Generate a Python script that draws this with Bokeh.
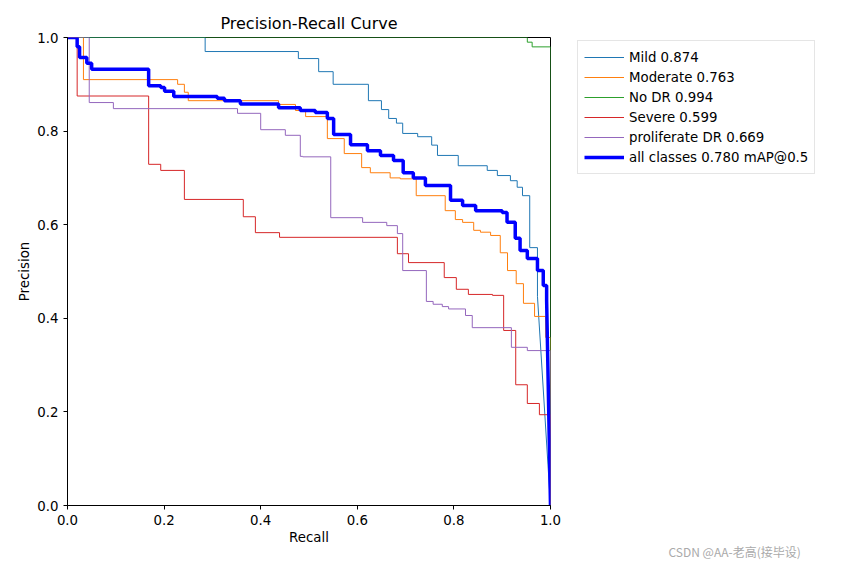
from bokeh.plotting import figure
from bokeh.models import Legend, LegendItem, Title, SingleIntervalTicker, NumeralTickFormatter, Range1d
from bokeh.embed import file_html
from bokeh.resources import INLINE

# (recall breakpoints, precision values) - step "after"
mild_r = [0.0, 0.285, 0.478, 0.52, 0.55, 0.623, 0.65, 0.665, 0.681, 0.694, 0.725, 0.754, 0.766, 0.809, 0.869, 0.890, 0.917, 0.931, 0.942, 0.957, 0.973]
mild_p = [1.0, 0.97, 0.955, 0.927, 0.90, 0.865, 0.846, 0.827, 0.817, 0.795, 0.788, 0.77, 0.748, 0.726, 0.716, 0.705, 0.694, 0.68, 0.662, 0.551, 0.447]
nodr_r = [0.0, 0.952, 0.962]
nodr_p = [1.0, 0.99, 0.98]
mod_r = [0.0, 0.033, 0.228, 0.242, 0.25, 0.437, 0.472, 0.493, 0.538, 0.573, 0.609, 0.627, 0.668, 0.689, 0.722, 0.782, 0.803, 0.818, 0.841, 0.855, 0.876, 0.896, 0.911, 0.929, 0.944, 0.967, 0.99]
mod_p = [1.0, 0.91, 0.90, 0.883, 0.865, 0.857, 0.844, 0.831, 0.784, 0.752, 0.722, 0.711, 0.70, 0.698, 0.662, 0.63, 0.611, 0.605, 0.588, 0.584, 0.577, 0.54, 0.502, 0.474, 0.432, 0.404, 0.359]
sev_r = [0.0, 0.02, 0.168, 0.193, 0.242, 0.364, 0.389, 0.439, 0.683, 0.706, 0.78, 0.805, 0.83, 0.88, 0.903, 0.928, 0.952, 0.977]
sev_p = [1.0, 0.875, 0.729, 0.716, 0.654, 0.617, 0.583, 0.573, 0.538, 0.519, 0.487, 0.462, 0.451, 0.449, 0.374, 0.258, 0.218, 0.194]
pro_r = [0.0, 0.045, 0.095, 0.352, 0.40, 0.451, 0.482, 0.487, 0.545, 0.611, 0.661, 0.683, 0.694, 0.743, 0.757, 0.776, 0.789, 0.824, 0.838, 0.919, 0.952]
pro_p = [1.0, 0.861, 0.848, 0.838, 0.803, 0.791, 0.746, 0.745, 0.615, 0.605, 0.598, 0.581, 0.502, 0.436, 0.43, 0.425, 0.42, 0.406, 0.38, 0.338, 0.331]
all_r = [0.0, 0.02, 0.025, 0.04, 0.05, 0.168, 0.193, 0.201, 0.22, 0.31, 0.325, 0.358, 0.437, 0.482, 0.513, 0.538, 0.551, 0.586, 0.621, 0.648, 0.675, 0.695, 0.716, 0.741, 0.793, 0.818, 0.845, 0.90, 0.91, 0.927, 0.937, 0.952, 0.973, 0.985, 0.992]
all_p = [1.0, 0.98, 0.957, 0.945, 0.932, 0.897, 0.893, 0.885, 0.874, 0.87, 0.865, 0.858, 0.85, 0.844, 0.84, 0.827, 0.793, 0.771, 0.758, 0.748, 0.737, 0.711, 0.70, 0.684, 0.652, 0.641, 0.63, 0.626, 0.605, 0.571, 0.545, 0.528, 0.502, 0.47, 0.438]

series = [
    ("Mild 0.874", mild_r, mild_p, "#1f77b4", 1, "diag"),
    ("Moderate 0.763", mod_r, mod_p, "#ff7f0e", 1, "vert"),
    ("No DR 0.994", nodr_r, nodr_p, "#2ca02c", 1, "vert"),
    ("Severe 0.599", sev_r, sev_p, "#d62728", 1, "vert"),
    ("proliferate DR 0.669", pro_r, pro_p, "#9467bd", 1, "vert"),
    ("all classes 0.780 mAP@0.5", all_r, all_p, "#0000ff", 3.5, "diag"),
]

p = figure(frame_width=483, frame_height=468, output_backend="svg", toolbar_location=None,
           x_range=Range1d(0, 1), y_range=Range1d(0, 1),
           min_border_left=67, min_border_top=37, min_border_bottom=57, min_border_right=10,
           title="Precision-Recall Curve")
p.title.align = "center"
p.title.text_font = "DejaVu Sans"
p.title.text_font_size = "12pt"
p.title.text_font_style = "normal"
p.title.text_color = "black"
p.grid.visible = False
p.outline_line_color = "black"
for ax, lab in ((p.xaxis, "Recall"), (p.yaxis, "Precision")):
    ax.axis_label = lab
    ax.axis_label_text_font = "DejaVu Sans"
    ax.axis_label_text_font_style = "normal"
    ax.axis_label_text_font_size = "10pt"
    ax.axis_label_text_color = "black"
    ax.axis_label_standoff = 2
    ax.major_label_text_font = "DejaVu Sans"
    ax.major_label_text_font_size = "10pt"
    ax.major_label_text_color = "black"
    ax.ticker = SingleIntervalTicker(interval=0.2)
    ax.formatter = NumeralTickFormatter(format="0.0")
    ax.minor_tick_line_color = None
    ax.major_tick_in = 0
    ax.major_tick_out = 4

items = []
for name, rs, ps, col, w, end in series:
    xs, ys = [], []
    for i, (r, pr) in enumerate(zip(rs, ps)):
        if i > 0:
            xs.append(r); ys.append(ps[i - 1])
        xs.append(r); ys.append(pr)
    if end == "vert":
        xs.append(1.0); ys.append(ps[-1])
    xs.append(1.0); ys.append(0.0)
    r = p.line(xs, ys, line_color=col, line_width=w)
    items.append(LegendItem(label=name, renderers=[r]))

leg = Legend(items=items, location=(27, 331), label_text_font="DejaVu Sans",
             label_text_font_size="10pt", label_text_color="black", border_line_color="#cccccc",
             glyph_width=40, spacing=0, padding=6, label_height=20, glyph_height=20, margin=0)
p.add_layout(leg, "right")

wm = Title(text="CSDN @AA-老高(接毕设)", align="left", offset=601, text_color="#aaaaaa",
           text_font="Noto Sans CJK SC", text_font_size="9pt", text_font_style="normal", standoff=-14)
p.add_layout(wm, "below")

open("out.html", "w").write(file_html(p, INLINE))
